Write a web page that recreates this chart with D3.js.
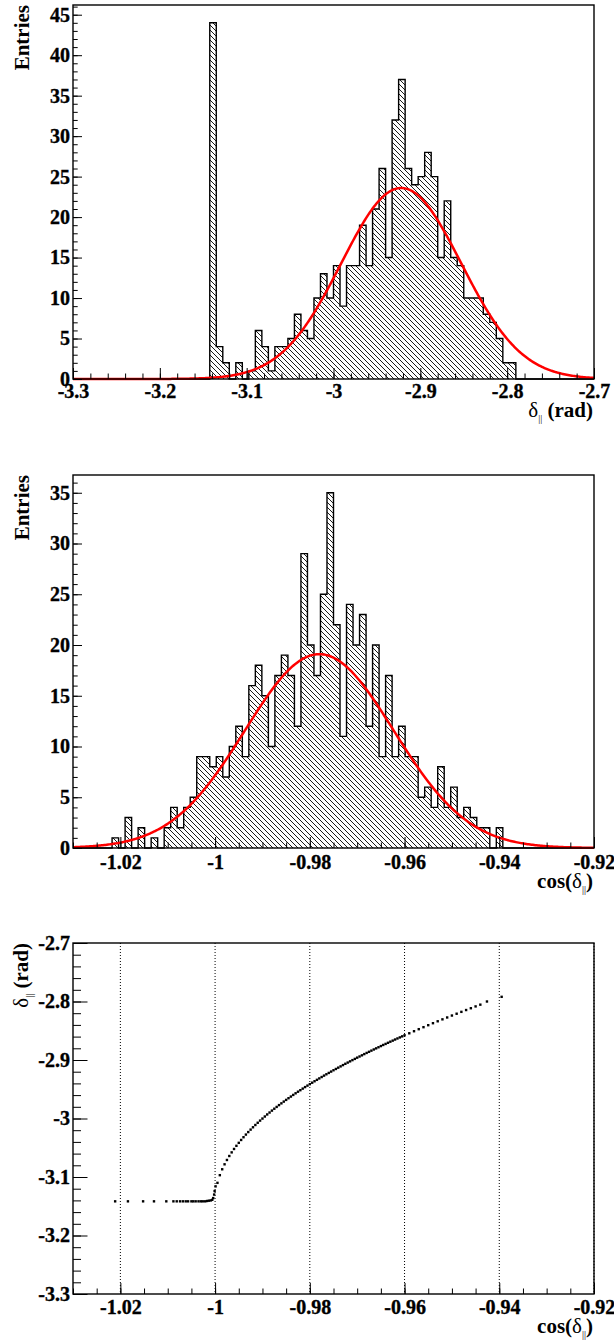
<!DOCTYPE html>
<html>
<head>
<meta charset="utf-8">
<script src="https://cdn.jsdelivr.net/npm/d3@7/dist/d3.min.js"></script>
<style>
    body { margin: 0; background: #fff; }
    text { font-family: "Liberation Serif", "Times New Roman", serif; font-weight: bold; }
</style>
</head>
<body>
<svg id="drawing_region"></svg>
<script>
// ---- data ----
// delta_par histogram, 80 bins on [-3.3, -2.7]
const deltaRange = [-3.3, -2.7];
const deltaCounts = [
    0, 0, 0, 0, 0, 0, 0, 0, 0, 0, 0, 0, 0, 0, 0, 0, 0, 0, 0, 0,
    0, 44, 4, 2, 0, 2, 0, 1, 6, 4, 1, 4, 4, 5, 8, 6, 5, 10, 13, 10,
    14, 9, 14, 14, 19, 14, 21, 26, 15, 32, 37, 26, 24, 25, 28, 25, 15, 22, 15, 14,
    10, 10, 10, 8, 7, 5, 2, 2, 0, 0, 0, 0, 0, 0, 0, 0, 0, 0, 0, 0
];
// gaussian fit: constant, mean, sigma
const deltaFit = [23.6, -2.922, 0.069];

// cos(delta_par) histogram, 80 bins on [-1.03, -0.92]
const cosRange = [-1.03, -0.92];
const cosCounts = [
    0, 0, 0, 0, 0, 0, 1, 0, 3, 0, 2, 0, 1, 0, 2, 4, 2, 4, 5, 9,
    9, 8, 9, 7, 10, 12, 9, 16, 18, 15, 10, 17, 19, 17, 12, 29, 20, 17, 25, 35,
    22, 11, 24, 20, 23, 12, 20, 9, 17, 9, 12, 9, 9, 5, 6, 4, 8, 4, 6, 3,
    4, 3, 2, 2, 0, 2, 0, 0, 0, 0, 0, 0, 0, 0, 0, 0, 0, 0, 0, 0
];
const cosFit = [19.1, -0.978, 0.0157];

// tick labels
const deltaTicks = [-3.3, -3.2, -3.1, -3, -2.9, -2.8, -2.7];
const cosTicks = [-1.02, -1, -0.98, -0.96, -0.94, -0.92];
const deltaEntryTicks = [0, 5, 10, 15, 20, 25, 30, 35, 40, 45];
const cosEntryTicks = [0, 5, 10, 15, 20, 25, 30, 35];

// scatter: [cos(delta), delta]
const scatterPoints = [
    [-1.0211, -3.1416], [-1.0184, -3.1416], [-1.0152, -3.1416], [-1.0129, -3.1416], [-1.0103, -3.1416],
    [-1.0088, -3.1416], [-1.0081, -3.1416], [-1.0074, -3.1416], [-1.0068, -3.1416], [-1.0062, -3.1416],
    [-1.0057, -3.1416], [-1.0050, -3.1416], [-1.0046, -3.1416], [-1.0041, -3.1416], [-1.0035, -3.1416],
    [-1.0030, -3.1416], [-1.0026, -3.1416], [-1.0021, -3.1416], [-1.0017, -3.1410], [-1.0013, -3.1405],
    [-1.0009, -3.1400], [-1.0006, -3.1390], [-1.0004, -3.1360], [-1.0002, -3.1300], [-1.0001, -3.1240],
    [-0.9999, -3.1160], [-0.9995, -3.1100], [-0.9990, -3.0969], [-0.9985, -3.0868], [-0.9980, -3.0783],
    [-0.9975, -3.0709], [-0.9970, -3.0641], [-0.9965, -3.0579], [-0.9960, -3.0521], [-0.9955, -3.0467],
    [-0.9950, -3.0416], [-0.9945, -3.0367], [-0.9940, -3.0320], [-0.9935, -3.0275], [-0.9930, -3.0232],
    [-0.9925, -3.0190], [-0.9920, -3.0150], [-0.9915, -3.0111], [-0.9910, -3.0073], [-0.9905, -3.0036],
    [-0.9900, -3.0001], [-0.9895, -2.9966], [-0.9890, -2.9931], [-0.9885, -2.9898], [-0.9880, -2.9865],
    [-0.9875, -2.9833], [-0.9870, -2.9802], [-0.9865, -2.9771], [-0.9860, -2.9741], [-0.9855, -2.9711],
    [-0.9850, -2.9682], [-0.9845, -2.9653], [-0.9840, -2.9625], [-0.9835, -2.9597], [-0.9830, -2.9569],
    [-0.9825, -2.9542], [-0.9820, -2.9516], [-0.9815, -2.9489], [-0.9810, -2.9463], [-0.9805, -2.9438],
    [-0.9800, -2.9413], [-0.9795, -2.9388], [-0.9790, -2.9363], [-0.9785, -2.9339], [-0.9780, -2.9315],
    [-0.9775, -2.9291], [-0.9770, -2.9267], [-0.9765, -2.9244], [-0.9760, -2.9221], [-0.9755, -2.9198],
    [-0.9750, -2.9175], [-0.9745, -2.9153], [-0.9740, -2.9131], [-0.9735, -2.9109], [-0.9730, -2.9087],
    [-0.9725, -2.9065], [-0.9720, -2.9044], [-0.9715, -2.9023], [-0.9710, -2.9002], [-0.9705, -2.8981],
    [-0.9700, -2.8960], [-0.9695, -2.8940], [-0.9690, -2.8920], [-0.9685, -2.8899], [-0.9680, -2.8879],
    [-0.9675, -2.8860], [-0.9670, -2.8840], [-0.9665, -2.8820], [-0.9660, -2.8801], [-0.9655, -2.8782],
    [-0.9650, -2.8762], [-0.9645, -2.8743], [-0.9640, -2.8725], [-0.9635, -2.8706], [-0.9630, -2.8687],
    [-0.9625, -2.8669], [-0.9620, -2.8650], [-0.9615, -2.8632], [-0.9610, -2.8614], [-0.9605, -2.8596],
    [-0.9600, -2.8578], [-0.9590, -2.8543], [-0.9580, -2.8508], [-0.9570, -2.8473], [-0.9560, -2.8439],
    [-0.9550, -2.8405], [-0.9540, -2.8371], [-0.9530, -2.8338], [-0.9520, -2.8305], [-0.9510, -2.8273],
    [-0.9500, -2.8240], [-0.9490, -2.8209], [-0.9480, -2.8177], [-0.9470, -2.8146], [-0.9460, -2.8115],
    [-0.9450, -2.8084], [-0.9440, -2.8054], [-0.9426, -2.8000], [-0.9395, -2.7920]
];

// ---- drawing ----
const FONT = '"Liberation Serif", "Times New Roman", serif';
const svg = d3.select('#drawing_region')
    .attr('width', 614)
    .attr('height', 1340);

// ROOT style 3004 hatch
svg.append('defs').append('pattern')
    .attr('id', 'hatch')
    .attr('patternUnits', 'userSpaceOnUse')
    .attr('width', 5)
    .attr('height', 5)
    .append('path')
    .attr('d', 'M-1,-1 L6,6 M-1,4 L1,6 M4,-1 L6,1')
    .attr('stroke', '#000')
    .attr('stroke-width', 0.9);

const fmt = d => String(+d.toFixed(3));
const LEFT = 73, RIGHT = 594;

function styleAxis(g) {
    g.select('.domain').remove();
    g.attr('font-size', 20).attr('font-family', FONT).attr('font-weight', 'bold');
    g.selectAll('text')
        .attr('font-weight', 'bold')
        .style('font-family', FONT)
        .style('font-weight', '700')
        .style('font-size', '20px')
        .attr('stroke', '#000')
        .attr('stroke-width', 0.35);
}

function drawAxes(p, x, y, opt) {
    // minor ticks first, majors on top
    p.append('g')
        .attr('transform', `translate(0, ${opt.bottom})`)
        .call(d3.axisBottom(x).tickValues(opt.xMinor).tickSize(-opt.xTick[1]).tickFormat(''))
        .call(styleAxis);
    p.append('g')
        .attr('transform', `translate(0, ${opt.bottom})`)
        .call(d3.axisBottom(x).tickValues(opt.xMajor).tickSize(-opt.xTick[0]).tickPadding(opt.xPad).tickFormat(fmt))
        .call(styleAxis);
    p.append('g')
        .attr('transform', `translate(${LEFT}, 0)`)
        .call(d3.axisLeft(y).tickValues(opt.yMinor).tickSize(-opt.yTick[1]).tickFormat(''))
        .call(styleAxis);
    p.append('g')
        .attr('transform', `translate(${LEFT}, 0)`)
        .call(d3.axisLeft(y).tickValues(opt.yMajor).tickSize(-opt.yTick[0]).tickPadding(3).tickFormat(fmt))
        .call(styleAxis);

    // frame
    p.append('rect')
        .attr('x', LEFT).attr('y', opt.top)
        .attr('width', RIGHT - LEFT).attr('height', opt.bottom - opt.top)
        .attr('fill', 'none')
        .attr('stroke', '#000')
        .attr('stroke-width', 1.4);
}

// title with delta_par glyph; parts: [text, kind]
function richTitle(t, parts) {
    parts.forEach(([s, kind]) => {
        const ts = t.append('tspan').text(s);
        if (kind === 'greek') ts.style('font-weight', 'normal');
        if (kind === 'sub') ts.style('font-weight', 'normal').style('font-size', '10px').attr('dy', 5);
        if (kind === 'back') ts.attr('dy', -5);
    });
}

function drawHist(opt) {
    const p = svg.append('g');
    const x = d3.scaleLinear().domain(opt.range).range([LEFT, RIGHT]);
    const y = d3.scaleLinear().domain([0, d3.max(opt.counts) * 1.05]).range([opt.bottom, opt.top]);

    const nb = opt.counts.length;
    const bw = (opt.range[1] - opt.range[0]) / nb;
    const steps = opt.counts.map((c, i) => ({x: opt.range[0] + i * bw, c: c}));
    steps.push({x: opt.range[1], c: opt.counts[nb - 1]});

    p.append('path')
        .datum(steps)
        .attr('fill', 'url(#hatch)')
        .attr('d', d3.area().x(d => x(d.x)).y0(y(0)).y1(d => y(d.c)).curve(d3.curveStepAfter));
    p.append('path')
        .datum(steps)
        .attr('fill', 'none')
        .attr('stroke', '#000')
        .attr('stroke-width', 1.4)
        .attr('d', d3.line().x(d => x(d.x)).y(d => y(d.c)).curve(d3.curveStepAfter));

    // gaussian fit
    const [c0, mu, sg] = opt.fit;
    const xs = d3.range(401).map(i => opt.range[0] + i * (opt.range[1] - opt.range[0]) / 400);
    p.append('path')
        .datum(xs)
        .attr('fill', 'none')
        .attr('stroke', '#ff0000')
        .attr('stroke-width', 2.5)
        .attr('d', d3.line().x(d => x(d)).y(d => y(c0 * Math.exp(-0.5 * ((d - mu) / sg) ** 2))));

    drawAxes(p, x, y, {
        top: opt.top, bottom: opt.bottom,
        xMajor: opt.xTicks, xMinor: opt.xMinor, xTick: [11, 5.5], xPad: opt.xPad,
        yMajor: opt.yTicks, yMinor: d3.range(0, Math.floor(y.domain()[1]) + 1), yTick: [9, 4.7]
    });

    p.append('text')
        .attr('transform', `translate(29, ${opt.top}) rotate(-90)`)
        .attr('text-anchor', 'end')
        .style('font-size', '21px')
        .text('Entries');

    const t = p.append('text')
        .attr('x', 593).attr('y', opt.titleY)
        .attr('text-anchor', 'end')
        .style('font-size', '21px');
    richTitle(t, opt.title);
}

drawHist({
    top: 5, bottom: 379, range: deltaRange, counts: deltaCounts, fit: deltaFit,
    xTicks: deltaTicks, xMinor: d3.range(31).map(i => -3.3 + i * 0.02), xPad: 5,
    yTicks: deltaEntryTicks, titleY: 417,
    title: [['δ', 'greek'], ['||', 'sub'], [' (rad)', 'back']]
});

drawHist({
    top: 475, bottom: 848, range: cosRange, counts: cosCounts, fit: cosFit,
    xTicks: cosTicks, xMinor: d3.range(23).map(i => -1.03 + i * 0.005), xPad: 7,
    yTicks: cosEntryTicks, titleY: 888,
    title: [['cos(', ''], ['δ', 'greek'], ['||', 'sub'], [')', 'back']]
});

// scatter panel
(function () {
    const top = 943, bottom = 1294;
    const p = svg.append('g');
    const x = d3.scaleLinear().domain(cosRange).range([LEFT, RIGHT]);
    const y = d3.scaleLinear().domain(deltaRange).range([bottom, top]);

    // dotted grid on x majors
    p.selectAll('line.grid')
        .data(cosTicks)
        .join('line')
        .attr('class', 'grid')
        .attr('x1', d => x(d)).attr('x2', d => x(d))
        .attr('y1', top).attr('y2', bottom)
        .attr('stroke', '#000')
        .attr('stroke-width', 1)
        .attr('stroke-dasharray', '1,2');

    p.selectAll('rect.pt')
        .data(scatterPoints)
        .join('rect')
        .attr('class', 'pt')
        .attr('x', d => x(d[0]) - 1.2)
        .attr('y', d => y(d[1]) - 1.2)
        .attr('width', 2.4)
        .attr('height', 2.4)
        .attr('fill', '#000');

    drawAxes(p, x, y, {
        top: top, bottom: bottom,
        xMajor: cosTicks, xMinor: d3.range(23).map(i => -1.03 + i * 0.005), xTick: [11, 5.5], xPad: 6,
        yMajor: deltaTicks, yMinor: d3.range(31).map(i => -3.3 + i * 0.02), yTick: [14.5, 8]
    });

    const ty = p.append('text')
        .attr('transform', `translate(28, ${top}) rotate(-90)`)
        .attr('text-anchor', 'end')
        .style('font-size', '21px');
    richTitle(ty, [['δ', 'greek'], ['||', 'sub'], [' (rad)', 'back']]);

    const tx = p.append('text')
        .attr('x', 593).attr('y', 1333)
        .attr('text-anchor', 'end')
        .style('font-size', '21px');
    richTitle(tx, [['cos(', ''], ['δ', 'greek'], ['||', 'sub'], [')', 'back']]);
})();
</script>
</body>
</html>
